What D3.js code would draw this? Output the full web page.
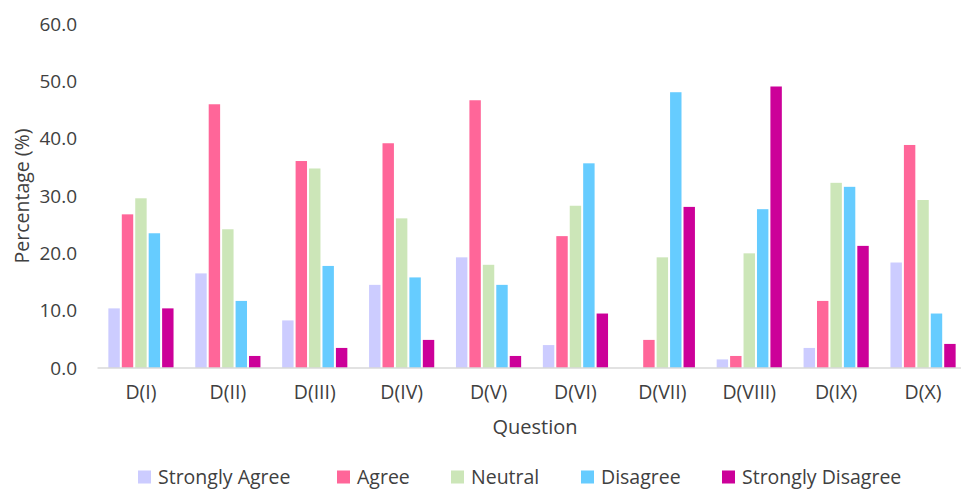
<!DOCTYPE html>
<html>
<head>
<meta charset="utf-8">
<script src="https://cdn.jsdelivr.net/npm/d3@7"></script>
<style>
  html, body { margin: 0; padding: 0; background: #fff; }
  svg { display: block; font-family: "Open Sans", "Noto Sans", sans-serif; }
</style>
</head>
<body>
<svg id="chart" width="961" height="490"></svg>
<script>
// Survey questions on the x axis
const questions = ["D(I)", "D(II)", "D(III)", "D(IV)", "D(V)", "D(VI)", "D(VII)", "D(VIII)", "D(IX)", "D(X)"];
// Response categories (one bar per category within each question)
const responses = ["Strongly Agree", "Agree", "Neutral", "Disagree", "Strongly Disagree"];
const responseColors = ["#ccccff", "#ff6699", "#cce6b8", "#66ccff", "#cc0099"];

// Percentage of respondents per response, one array per category
const stronglyAgree    = [10.4, 16.5,  8.3, 14.5, 19.3,  4.0,  0.0,  1.5,  3.5, 18.4];
const agree            = [26.8, 46.0, 36.1, 39.2, 46.7, 23.0,  4.9,  2.1, 11.7, 38.9];
const neutral          = [29.6, 24.2, 34.8, 26.1, 18.0, 28.3, 19.3, 20.0, 32.3, 29.3];
const disagree         = [23.5, 11.7, 17.8, 15.8, 14.5, 35.7, 48.1, 27.7, 31.6,  9.5];
const stronglyDisagree = [10.4,  2.1,  3.5,  4.9,  2.1,  9.5, 28.1, 49.1, 21.3,  4.2];

const yTicks = [0, 10, 20, 30, 40, 50, 60];

const seriesValues = [stronglyAgree, agree, neutral, disagree, stronglyDisagree];
const rows = questions.map((q, i) => ({
  question: q,
  values: responses.map((r, k) => ({ key: r, value: seriesValues[k][i], color: responseColors[k] }))
}));

const svg = d3.select("#chart");
const textColor = "#404040";

const x0 = d3.scaleBand().domain(questions).range([97.5, 966.5]).paddingInner(0.25).paddingOuter(0.125);
const x1 = d3.scaleBand().domain(responses).range([0, x0.bandwidth()]).paddingInner(0.15);
const y = d3.scaleLinear().domain([0, 60]).range([368, 24]);

// Bars
const groups = svg.append("g").selectAll("g").data(rows).join("g")
  .attr("transform", d => `translate(${x0(d.question)},0)`);
groups.selectAll("rect").data(d => d.values.filter(v => v.value > 0)).join("rect")
  .attr("x", d => x1(d.key))
  .attr("width", x1.bandwidth())
  .attr("y", d => y(d.value))
  .attr("height", d => y(0) - y(d.value))
  .attr("fill", d => d.color);

// Baseline
svg.append("line")
  .attr("x1", 97.5).attr("x2", 966.5)
  .attr("y1", y(0)).attr("y2", y(0))
  .attr("stroke", "#d9d9d9").attr("stroke-width", 1.3);

// Y axis (labels only)
const yAxis = svg.append("g").attr("transform", "translate(77,0)")
  .call(d3.axisLeft(y).tickValues(yTicks).tickFormat(d3.format(".1f")).tickSize(0).tickPadding(0));
yAxis.select(".domain").remove();
yAxis.selectAll("text").attr("fill", textColor).style("font-size", "19px")
  .style("font-family", "'Open Sans', sans-serif");

// X axis (labels only)
const xAxis = svg.append("g").attr("transform", `translate(0,${y(0)})`)
  .call(d3.axisBottom(x0).tickSize(0).tickPadding(17));
xAxis.select(".domain").remove();
xAxis.selectAll("text").attr("fill", textColor).style("font-size", "19.5px")
  .style("font-family", "'Open Sans', sans-serif");

// Axis titles
svg.append("text")
  .attr("x", 535).attr("y", 427).attr("dy", "0.35em")
  .attr("text-anchor", "middle").attr("fill", textColor).style("font-size", "20px")
  .text("Question");
svg.append("text")
  .attr("transform", "translate(22,196) rotate(-90)")
  .attr("dy", "0.35em")
  .attr("text-anchor", "middle").attr("fill", textColor).style("font-size", "19.5px")
  .text("Percentage (%)");

// Legend
const legendTextX = [158, 357, 471, 601, 742];
const legend = svg.append("g").selectAll("g").data(responses).join("g")
  .attr("transform", (d, i) => `translate(${legendTextX[i]},484)`);
legend.append("rect").attr("x", -20).attr("y", -13.5).attr("width", 13).attr("height", 13)
  .attr("fill", (d, i) => responseColors[i]);
legend.append("text").attr("x", 0)
  .attr("fill", textColor).style("font-size", "19.5px")
  .text(d => d);
</script>
</body>
</html>
